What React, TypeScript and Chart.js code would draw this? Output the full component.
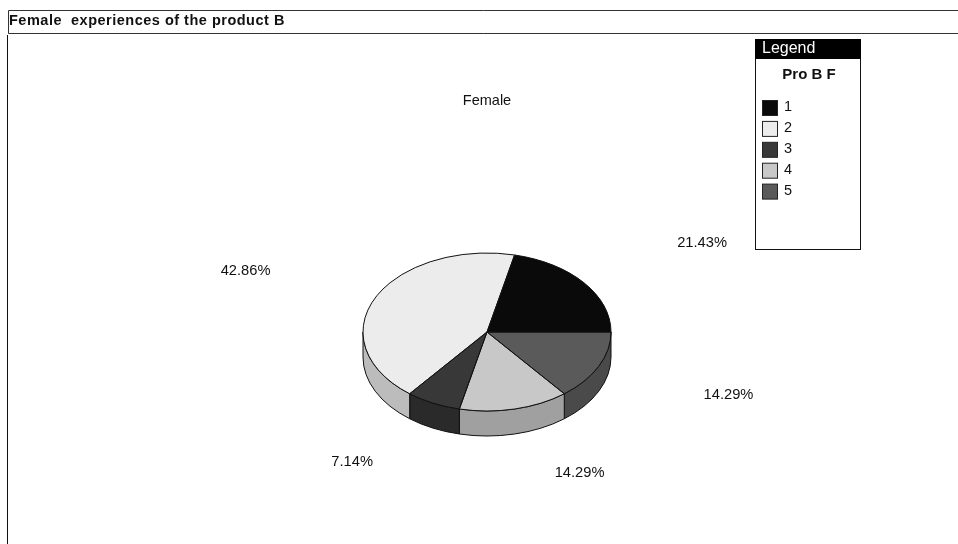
import React, { useEffect, useRef } from "react";
import { Chart, registerables } from "chart.js";

Chart.register(...registerables);

// Response categories and their share of answers, in percent
const categories = ["1", "2", "3", "4", "5"];
const shares = [21.43, 42.86, 7.14, 14.29, 14.29];

// Fill of each slice's top face and of its outer wall
const topColors = ["#0a0a0a", "#ececec", "#383838", "#c8c8c8", "#5a5a5a"];
const wallColors = ["#050505", "#bcbcbc", "#2a2a2a", "#a0a0a0", "#4a4a4a"];

const panelTitle = "Female  experiences of the product B";
const pieTitle = "Female";
const legendHeader = "Legend";
const legendTitle = "Pro B F";

// Adjustment of each percentage label away from its slice's radial position
const labelShiftX = [5.5, 0, -18.5, 33, 0];
const labelShiftY = [-1, 0, 3, 3, 1.5];

const FONT = '"Liberation Sans", Arial, sans-serif';
const CENTER_X = 487;
const CENTER_Y = 332;
const RADIUS_X = 124;
const RADIUS_Y = 79;
const DEPTH = 25;
const LABEL_RX = 268;
const LABEL_RY = 141;
const OUTLINE = "#111111";

// Slices are fed in reverse so the categories run anticlockwise from 3 o'clock
const drawnIndex = (i: number) => categories.length - 1 - i;

const arcsOf = (chart: any) =>
  chart.getDatasetMeta(0).data.map((el: any, i: number) => {
    const p = el.getProps(["x", "y", "startAngle", "endAngle"], true);
    return { ...p, cat: drawnIndex(i) };
  });

const tiltedPie = {
  id: "tiltedPie",
  // Outer wall under the pie, then squash the circle into an ellipse
  beforeDatasetsDraw(chart: any) {
    const ctx = chart.ctx;
    ctx.save();
    for (const a of arcsOf(chart)) {
      const from = Math.max(a.startAngle, 0);
      const to = Math.min(a.endAngle, Math.PI);
      if (to <= from) continue;
      ctx.beginPath();
      ctx.ellipse(a.x, a.y, RADIUS_X, RADIUS_Y, 0, from, to);
      ctx.ellipse(a.x, a.y + DEPTH, RADIUS_X, RADIUS_Y, 0, to, from, true);
      ctx.closePath();
      ctx.fillStyle = wallColors[a.cat];
      ctx.fill();
      ctx.lineWidth = 1;
      ctx.strokeStyle = OUTLINE;
      ctx.stroke();
    }
    ctx.restore();
    ctx.save();
    ctx.translate(0, CENTER_Y);
    ctx.scale(1, RADIUS_Y / RADIUS_X);
    ctx.translate(0, -CENTER_Y);
  },
  // Outlines are stroked unsquashed so the line weight stays even
  afterDatasetsDraw(chart: any) {
    const ctx = chart.ctx;
    ctx.restore();
    ctx.save();
    for (const a of arcsOf(chart)) {
      ctx.beginPath();
      ctx.moveTo(a.x, a.y);
      ctx.ellipse(a.x, a.y, RADIUS_X, RADIUS_Y, 0, a.startAngle, a.endAngle);
      ctx.closePath();
      ctx.lineWidth = 1;
      ctx.strokeStyle = OUTLINE;
      ctx.stroke();
    }
    ctx.fillStyle = "#111111";
    ctx.font = `14.7px ${FONT}`;
    ctx.textAlign = "center";
    ctx.textBaseline = "middle";
    for (const a of arcsOf(chart)) {
      const mid = (a.startAngle + a.endAngle) / 2;
      const x = a.x + Math.cos(mid) * LABEL_RX + labelShiftX[a.cat];
      const y = a.y + Math.sin(mid) * LABEL_RY + labelShiftY[a.cat];
      ctx.fillText(`${shares[a.cat].toFixed(2)}%`, x, y);
    }
    ctx.restore();
  },
};

const panelFrame = {
  id: "panelFrame",
  beforeDraw(chart: any) {
    const ctx = chart.ctx;
    ctx.save();
    ctx.fillStyle = "#ffffff";
    ctx.fillRect(0, 0, 958, 544);
    ctx.strokeStyle = "#333333";
    ctx.lineWidth = 1;
    ctx.beginPath();
    ctx.moveTo(960, 10.5);
    ctx.lineTo(8.5, 10.5);
    ctx.lineTo(8.5, 33.5);
    ctx.lineTo(960, 33.5);
    ctx.stroke();
    ctx.strokeStyle = "#111111";
    ctx.beginPath();
    ctx.moveTo(7.5, 35);
    ctx.lineTo(7.5, 544);
    ctx.stroke();

    ctx.fillStyle = "#111111";
    ctx.textBaseline = "middle";
    ctx.textAlign = "left";
    ctx.font = `bold 14.5px ${FONT}`;
    ctx.letterSpacing = "0.5px";
    ctx.fillText(panelTitle, 9, 21);
    ctx.letterSpacing = "0px";
    ctx.textAlign = "center";
    ctx.font = `14.5px ${FONT}`;
    ctx.fillText(pieTitle, 487, 101);
    ctx.restore();
  },
  afterDraw(chart: any) {
    const ctx = chart.ctx;
    ctx.save();
    ctx.fillStyle = "#ffffff";
    ctx.fillRect(755.5, 39.5, 105, 210);
    ctx.strokeStyle = "#111111";
    ctx.lineWidth = 1;
    ctx.strokeRect(755.5, 39.5, 105, 210);
    ctx.fillStyle = "#000000";
    ctx.fillRect(755, 39, 106, 20);
    ctx.textBaseline = "middle";
    ctx.textAlign = "left";
    ctx.fillStyle = "#ffffff";
    ctx.font = `16px ${FONT}`;
    ctx.fillText(legendHeader, 762, 49);
    ctx.fillStyle = "#111111";
    ctx.textAlign = "center";
    ctx.font = `bold 15px ${FONT}`;
    ctx.fillText(legendTitle, 809, 75);
    ctx.textAlign = "left";
    ctx.font = `14.5px ${FONT}`;
    categories.forEach((name, i) => {
      const top = 100 + i * 20.9;
      ctx.fillStyle = topColors[i];
      ctx.fillRect(762.5, top + 0.5, 15, 15);
      ctx.strokeStyle = "#222222";
      ctx.strokeRect(762.5, top + 0.5, 15, 15);
      ctx.fillStyle = "#111111";
      ctx.fillText(name, 784, top + 7);
    });
    ctx.restore();
  },
};

export default function App() {
  const canvasRef = useRef<HTMLCanvasElement>(null);

  useEffect(() => {
    const chart = new Chart(canvasRef.current!, {
      type: "pie",
      data: {
        labels: [...categories].reverse(),
        datasets: [
          {
            data: [...shares].reverse(),
            backgroundColor: [...topColors].reverse(),
            borderWidth: 0,
          },
        ],
      },
      options: {
        responsive: false,
        animation: false,
        rotation: 90,
        layout: {
          padding: {
            left: CENTER_X - RADIUS_X,
            right: 958 - CENTER_X - RADIUS_X,
            top: CENTER_Y - RADIUS_X,
            bottom: 544 - CENTER_Y - RADIUS_X,
          },
        },
        plugins: {
          legend: { display: false },
          title: { display: false },
          tooltip: { enabled: false },
        },
      },
      plugins: [panelFrame, tiltedPie],
    } as any);
    return () => chart.destroy();
  }, []);

  return (
    <div style={{ position: "absolute", left: 0, top: 0, width: 958, height: 544, overflow: "hidden" }}>
      <canvas ref={canvasRef} width={958} height={544} style={{ display: "block" }} />
    </div>
  );
}
